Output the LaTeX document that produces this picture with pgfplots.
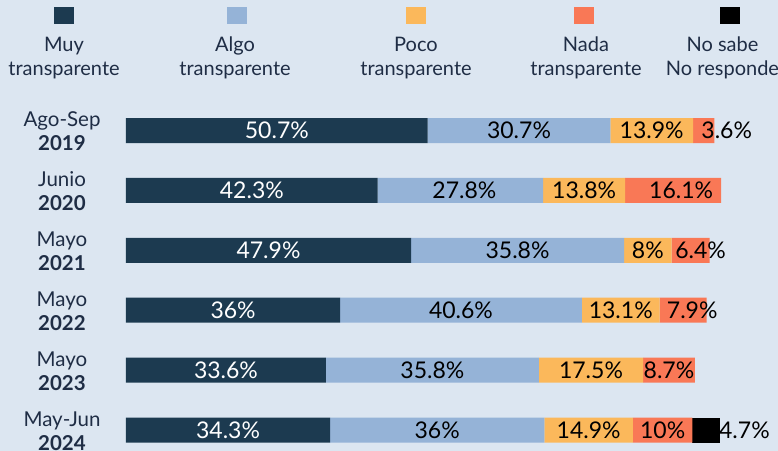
\documentclass[border=0pt]{standalone}
\usepackage{fontspec}
\setmainfont{Lato}
\usepackage{pgfplots}
\usepackage{pgfplotstable}
\pgfplotsset{compat=1.18}

\definecolor{bg}{HTML}{DCE6F1}
\definecolor{cmuy}{HTML}{1C3A50}
\definecolor{calgo}{HTML}{95B3D7}
\definecolor{cpoco}{HTML}{FBB85B}
\definecolor{cnada}{HTML}{F97856}
\definecolor{cns}{HTML}{000000}
\definecolor{txt}{HTML}{1F2D45}

\newcommand\lfont{\fontsize{20bp}{24bp}\selectfont}
\newcommand\cfont{\fontsize{20.5bp}{24bp}\selectfont}
\newcommand\bfont{\fontsize{23bp}{26bp}\selectfont}

% legend cell: colour, half width, text, text shift
% (base of a two-line node is the baseline of its last line)
\newcommand\legimg[4]{%
  \path[draw=none, fill=none] (-#2bp,-72bp) rectangle (#2bp,10bp);
  \fill[#1] (-10bp,-8.5bp) rectangle (10bp,8.5bp);
  \node[anchor=base, align=center, inner sep=0pt, text=txt, font=\lfont] at (#4bp,-60.2bp) {#3};
}

% y = 5 is the top row (2019)
\pgfplotstableread{
y val lab dx
5 50.7 50.7\% 0
4 42.3 42.3\% 0
3 47.9 47.9\% 0
2 36   36\%   0
1 33.6 33.6\% 0
0 34.3 34.3\% 0
}\muy
\pgfplotstableread{
y val lab dx
5 30.7 30.7\% 0
4 27.8 27.8\% 4
3 35.8 35.8\% 0
2 40.6 40.6\% 0
1 35.8 35.8\% 0
0 36   36\%   0
}\algo
\pgfplotstableread{
y val lab dx
5 13.9 13.9\% 0
4 13.8 13.8\% 0
3 8    8\%    0
2 13.1 13.1\% 0
1 17.5 17.5\% 0
0 14.9 14.9\% 0
}\poco
\pgfplotstableread{
y val lab dx
5 3.6  3.6\%  23
4 16.1 16.1\% 8
3 6.4  6.4\%  10
2 7.9  7.9\%  9
1 8.7  8.7\%  0
0 10   10\%   0
}\nada
\pgfplotstableread{
y val lab dx
5 0   {}     0
4 0   {}     0
3 0   {}     0
2 0   {}     0
1 0   {}     0
0 4.7 4.7\%  38
}\nsnr

\pgfplotsset{
  seg/.style n args={2}{
    fill=#1, draw=none,
    point meta=explicit symbolic,
    nodes near coords={\pgfplotspointmeta},
    visualization depends on={\thisrow{dx} \as \dx},
    every node near coord/.append style={anchor=center, inner sep=0pt,
      text=#2, font=\bfont, xshift={\dx*1bp}},
  },
}

\begin{document}
\begin{tikzpicture}
\useasboundingbox (0,0) rectangle (778bp,451bp);
\fill[bg] (0,0) rectangle (778bp,451bp);
\begin{axis}[
  at={(126bp,0bp)}, anchor=south west,
  scale only axis, width=595bp, height=350.45bp,
  xbar stacked, bar width=25bp,
  xmin=0, xmax=100, ymin=-0.35, ymax=5.5,
  axis line style={draw=none}, tick style={draw=none},
  xtick=\empty, ytick={0,1,2,3,4,5},
  yticklabels={{May-Jun\\\textbf{2024}},{Mayo\\\textbf{2023}},{Mayo\\\textbf{2022}},
    {Mayo\\\textbf{2021}},{Junio\\\textbf{2020}},{Ago-Sep\\\textbf{2019}}},
  yticklabel style={align=center, anchor=center, xshift=-64bp, yshift=-1bp, font=\cfont, text=txt},
  clip=false,
  legend columns=5,
  legend style={at={(-0.24874,1.27122)}, anchor=north west, draw=none, fill=none,
    inner sep=0pt, outer sep=0pt, column sep=0pt, row sep=0pt,
    nodes={inner sep=0pt, outer sep=0pt},
    /tikz/every odd column/.style={column sep=0pt},
    /tikz/every even column/.style={column sep=0pt}},
]
\addplot[seg={cmuy}{white}, legend image code/.code={\legimg{cmuy}{86}{Muy\\transparente}{0}}]
  table[x=val, y=y, meta=lab] {\muy};
\addlegendentry{\relax}
\addplot[seg={calgo}{black}, legend image code/.code={\legimg{calgo}{86}{Algo\\transparente}{-2}}]
  table[x=val, y=y, meta=lab] {\algo};
\addlegendentry{\relax}
\addplot[seg={cpoco}{black}, legend image code/.code={\legimg{cpoco}{92}{Poco\\transparente}{0}}]
  table[x=val, y=y, meta=lab] {\poco};
\addlegendentry{\relax}
\addplot[seg={cnada}{black}, legend image code/.code={\legimg{cnada}{75}{Nada\\transparente}{2}}]
  table[x=val, y=y, meta=lab] {\nada};
\addlegendentry{\relax}
\addplot[seg={cns}{black}, legend image code/.code={\legimg{cns}{70}{No sabe\\No responde}{-7.5}}]
  table[x=val, y=y, meta=lab] {\nsnr};
\addlegendentry{\relax}
\end{axis}
\end{tikzpicture}
\end{document}
